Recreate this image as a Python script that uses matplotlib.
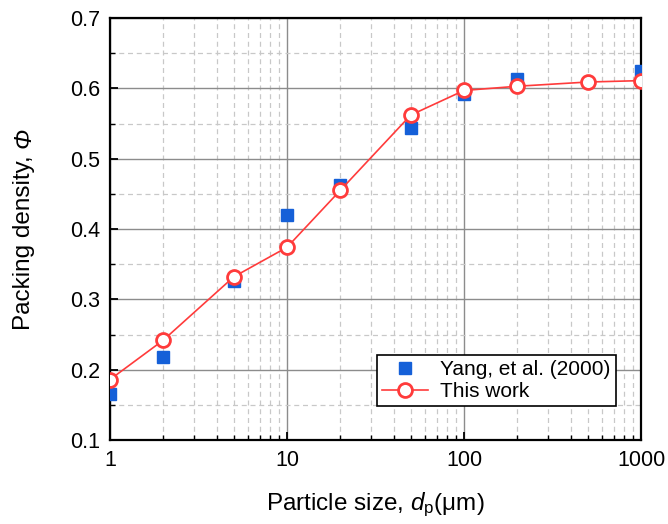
import numpy as np
import matplotlib
matplotlib.use("Agg")
import matplotlib.pyplot as plt
from matplotlib.ticker import LogLocator, FixedLocator, NullFormatter

plt.rcParams['font.family'] = ['Liberation Sans', 'DejaVu Sans']
plt.rcParams['mathtext.fontset'] = 'custom'
plt.rcParams['mathtext.rm'] = 'Liberation Sans'
plt.rcParams['mathtext.it'] = 'Liberation Sans:italic'

# data
yang_dp = [1, 2, 5, 10, 20, 50, 100, 200, 1000]
yang_phi = [0.166, 0.218, 0.326, 0.420, 0.462, 0.543, 0.592, 0.613, 0.624]
this_dp = [1, 2, 5, 10, 20, 50, 100, 200, 500, 1000]
this_phi = [0.186, 0.242, 0.332, 0.374, 0.455, 0.562, 0.597, 0.603, 0.609, 0.611]

W, H = 668, 524
fig = plt.figure(figsize=(W / 100, H / 100), dpi=100)
ax = fig.add_axes([0.1647, 0.1603, 0.7949, 0.8053])

ax.plot(yang_dp, yang_phi, linestyle='none', marker='s', markersize=8,
        color='#1560d8', label='Yang, et al. (2000)', zorder=3)
ax.plot(this_dp, this_phi, color='#ff3b3b', linewidth=1.2, marker='o',
        markersize=10, markerfacecolor='white', markeredgecolor='#ff3b3b',
        markeredgewidth=2, label='This work', zorder=4)

ax.set_xscale('log')
ax.set_xlim(1, 1000)
ax.set_ylim(0.1, 0.7)
ax.set_xticks([1, 10, 100, 1000])
ax.set_xticklabels(['1', '10', '100', '1000'])
ax.xaxis.set_minor_locator(LogLocator(base=10, subs=np.arange(2, 10)))
ax.xaxis.set_minor_formatter(NullFormatter())
ax.set_yticks(np.arange(0.1, 0.71, 0.1))
ax.set_yticklabels(['0.1', '0.2', '0.3', '0.4', '0.5', '0.6', '0.7'])
ax.yaxis.set_minor_locator(FixedLocator(np.arange(0.15, 0.7, 0.1)))

ax.grid(which='major', color='#8c8c8c', linewidth=1.0, linestyle='-')
ax.grid(which='minor', color='#c8c8c8', linewidth=0.9, linestyle=(0, (4, 3)))
ax.set_axisbelow(True)

ax.tick_params(which='both', direction='in', top=False, right=False,
               labelsize=15.5, pad=7)
ax.tick_params(which='major', length=6, width=1.3)
ax.tick_params(which='minor', length=3.5, width=1.0)
for s in ax.spines.values():
    s.set_linewidth(1.6)
    s.set_color('black')

ax.set_xlabel('Particle size, $\\mathit{d}_\\mathrm{p}$(μm)', fontsize=17.5, labelpad=14)

# y label in two parts so that the Phi is really italic
xb = 30 / W
t1 = fig.text(xb, 0, 'Packing density, ', rotation=90, rotation_mode='anchor',
              ha='left', va='baseline', fontsize=17.5)
t2 = fig.text(xb, 0, 'Φ', rotation=90, rotation_mode='anchor', ha='left',
              va='baseline', fontsize=17.5, fontstyle='italic')
fig.canvas.draw()
r = fig.canvas.get_renderer()
h1 = t1.get_window_extent(r).height
h2 = t2.get_window_extent(r).height
y0 = (H - 229) - (h1 + h2) / 2
t1.set_position((xb, y0 / H))
t2.set_position((xb, (y0 + h1) / H))

leg = ax.legend(loc='lower right', bbox_to_anchor=(0.953, 0.08), fontsize=15,
                frameon=True, fancybox=False, framealpha=1, edgecolor='black',
                borderpad=0.25, labelspacing=0.15, handlelength=2.2,
                handletextpad=0.6, borderaxespad=0)
leg.get_frame().set_linewidth(1.2)

fig.savefig('out.png', dpi=100, facecolor='white')
